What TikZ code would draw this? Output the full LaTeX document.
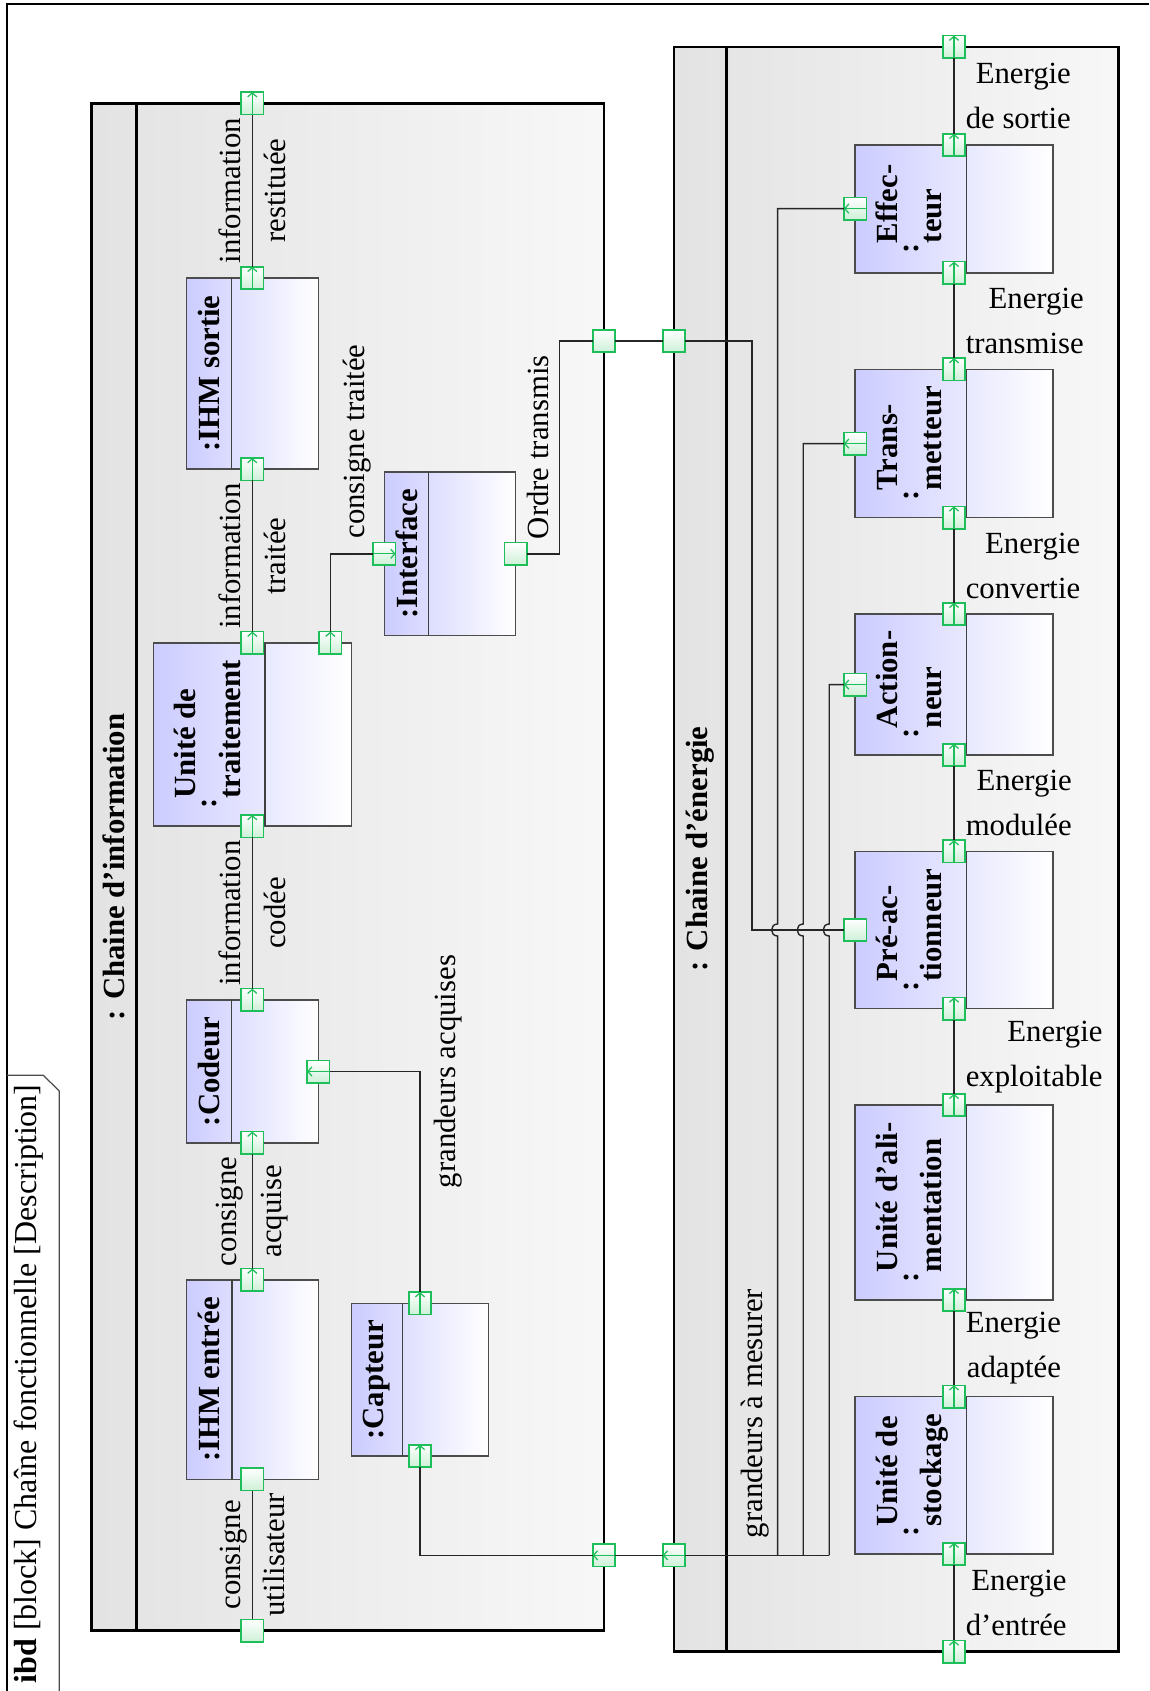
\documentclass[tikz,border=0pt]{standalone}
\usepackage{fontspec}
\setmainfont{Liberation Serif}
\usepackage{tikz}
\usetikzlibrary{%
  calc,%
  fit,%
  arrows.meta%
}
\definecolor{portgreen}{RGB}{30,190,90}
\definecolor{portfill}{RGB}{205,240,215}
\renewcommand{\arraystretch}{1.2}
\newcommand{\twolines}[2]{\begin{tabular}{@{}l@{}}#1\\#2\end{tabular}}

\begin{document}
\begin{tikzpicture}[x=0.325pt,y=-0.325pt,
  chainbox/.style={draw=black,line width=0.8pt,left color=black!11,right color=black!3,inner sep=0},
  partbox/.style={draw=black!70,line width=0.5pt,left color=blue!20,right color=white,inner sep=0},
  divider/.style={draw=black!75,line width=0.5pt},
  partname/.style={rotate=90,font=\bfseries,inner sep=0},
  portbox/.style={draw=portgreen,line width=0.5pt,top color=white,bottom color=portfill,minimum size=7.3pt,inner sep=0,outer sep=0},
  portarrow/.style={draw=portgreen,line width=0.4pt,-{Straight Barb[length=1.3pt,width=3pt]}},
  flow/.style={draw=black!85,line width=0.45pt},
  flowlabel/.style={rotate=90,align=center,inner sep=0,font=\fontsize{10}{14.5}\selectfont},
  elabel/.style={anchor=west,align=right,inner sep=0,xshift=3.6pt,font=\fontsize{10}{14.5}\selectfont}]
\useasboundingbox (0,0) rectangle (1149,1691);

% frame and tab
\draw[black,line width=0.5pt] (7,1691) -- (7,4) -- (1149,4);
\draw[black!70,line width=0.4pt] (7,1075.3) -- (43.3,1075.3) -- (59.3,1091) -- (59.3,1691);
\node[rotate=90,anchor=west,inner sep=0,font=\fontsize{10.4}{12}\selectfont] (frametitle) at (29,1684)
  {\textbf{ibd} [block] Chaîne fonctionnelle [Description]};

% the two chains
\node[chainbox,fit={(91.7,103.3)(604,1630.5)}] (info) {};
\draw[divider,black,line width=0.8pt] (136.7,103.3) -- (136.7,1630.5);
\node[partname] (infoname) at (114.2,867) {: Chaine d'information};
\node[chainbox,fit={(674,46.8)(1118.5,1651.6)}] (energy) {};
\draw[divider,black,line width=0.8pt] (726.6,46.8) -- (726.6,1651.6);
\node[partname] (energyname) at (700.3,849) {: Chaine d'énergie};

% parts of the information chain
\node[partbox,fit={(186.7,278)(318.3,469.2)}] (ihms) {};
\draw[divider] (231.7,278) -- (231.7,469.2);
\node[partname] at (209.2,373.6) {:IHM sortie};
\node[partbox,fit={(153.3,642.8)(351.3,826.2)}] (traitement) {};
\draw[divider] (265,642.8) -- (265,826.2);
\node[partname] at (209.2,734.5) {:\twolines{Unité de}{traitement}};
\node[partbox,fit={(186.7,999.9)(318.3,1142.8)}] (codeur) {};
\draw[divider] (231.7,999.9) -- (231.7,1142.8);
\node[partname] at (209.2,1071.3) {:Codeur};
\node[partbox,fit={(186.7,1279.8)(318.3,1479.3)}] (ihme) {};
\draw[divider] (232,1279.8) -- (232,1479.3);
\node[partname] at (209.2,1379.5) {:IHM entrée};
\node[partbox,fit={(384.3,471.9)(515.7,635.7)}] (interface) {};
\draw[divider] (428.7,471.9) -- (428.7,635.7);
\node[partname] at (406.5,553.8) {:Interface};
\node[partbox,fit={(351.7,1303.3)(488.7,1456)}] (capteur) {};
\draw[divider] (402.3,1303.3) -- (402.3,1456);
\node[partname] at (377,1379.7) {:Capteur};

% parts of the energy chain
\foreach \n/\ya/\yb/\ta/\tb in {effecteur/145/272.9/Effec-/teur,
    transmetteur/369.3/517.5/Trans-/metteur,
    actionneur/614/755/Action-/neur,
    preact/851.4/1008.6/Pré-ac-/tionneur,
    alim/1105/1300/Unité d'ali-/mentation,
    stockage/1396.5/1554/Unité de/stockage}
{
  \node[partbox,fit={(855.2,\ya)(1053.2,\yb)}] (\n) {};
  \draw[divider] (966.5,\ya) -- (966.5,\yb);
  \node[partname] at (910.9,{(\ya+\yb)/2}) {:\twolines{\ta}{\tb}};
}

% ports
\foreach \p/\y in {pIout/103.3,pHSout/278,pHSin/469.2,pUTout/642.8,pUTin/826.2,
    pCout/999.9,pCin/1142.8,pHEout/1279.8,pHEin/1479.3,pIin/1630.5}
  \node[portbox] (\p) at (252.3,\y) {};
\node[portbox] (pUTcmd) at (330.3,642.8) {};
\node[portbox] (pIFin) at (384.3,553.8) {};
\node[portbox] (pIFout) at (515.7,553.8) {};
\node[portbox] (pIord) at (604,341) {};
\node[portbox] (pEord) at (674,341) {};
\node[portbox] (pCmes) at (318.3,1071.5) {};
\node[portbox] (pCAout) at (420,1303.3) {};
\node[portbox] (pCAin) at (420,1456) {};
\node[portbox] (pImes) at (604,1555.3) {};
\node[portbox] (pEmes) at (674,1555.3) {};
\foreach \p/\y in {pEout/46.8,pEFout/145,pEFin/272.9,pTRout/369.3,pTRin/517.5,
    pACout/614,pACin/755,pPAout/851.4,pPAin/1008.6,pALout/1105,pALin/1300,
    pSTout/1396.5,pSTin/1554,pEin/1651.6}
  \node[portbox] (\p) at (954,\y) {};
\node[portbox] (pEFmes) at (855.2,208.6) {};
\node[portbox] (pTRmes) at (855.2,443.6) {};
\node[portbox] (pACmes) at (855.2,684.6) {};
\node[portbox] (pPAord) at (855.2,930) {};

% flows of the information chain
\draw[flow] (pHSout) -- node[flowlabel] {information\\restituée} (pIout);
\draw[flow] (pUTout) -- node[flowlabel] {information\\traitée} (pHSin);
\draw[flow] (pCout) -- node[flowlabel] {information\\codée} (pUTin);
\draw[flow] (pHEout) -- node[flowlabel] {consigne\\acquise} (pCin);
\draw[flow] (pIin) -- node[flowlabel] {consigne\\utilisateur} (pHEin);
\draw[flow] (pUTcmd) |- (pIFin);
\node[flowlabel] (lcons) at (357,441.5) {consigne traitée};
\coordinate (ordBend) at (559.3,447);
\draw[flow] (pIFout) -- (pIFout -| ordBend) |- (pIord);
\node[flowlabel] (lordre) at (537.5,447.3) {Ordre transmis};
\draw[flow] (pIord) -- (pEord);
\coordinate (ordDown) at (752,600);
\draw[flow] (pEord) -| (ordDown) |- (pPAord);
\draw[flow] (pCmes) -| (pCAout);
\node[flowlabel] (lacq) at (448,1071.5) {grandeurs acquises};
\draw[flow] (pCAin) |- (pImes);
\draw[flow] (pImes) -- (pEmes);
\coordinate (busA) at (777.6,1555.3);
\coordinate (busB) at (803.2,1555.3);
\coordinate (busC) at (829.2,1555.3);
\draw[flow] (pEmes) -- (busC);
\foreach \b/\t in {busA/pEFmes,busB/pTRmes,busC/pACmes}
  \draw[flow] (\b) -- ($(\b |- pPAord)+(0,6)$)
    .. controls +(-8,0) and +(-8,0) .. ($(\b |- pPAord)+(0,-6)$) |- (\t);
\node[flowlabel] (lmes) at (755,1413.5) {grandeurs à mesurer};

% flows of the energy chain
\draw[flow] (pEFout) -- node[elabel] {Energie\\de sortie} (pEout);
\draw[flow] (pTRout) -- node[elabel] {Energie\\transmise} (pEFin);
\draw[flow] (pACout) -- node[elabel] {Energie\\convertie} (pTRin);
\draw[flow] (pPAout) -- node[elabel] {Energie\\modulée} (pACin);
\draw[flow] (pALout) -- node[elabel] {Energie\\exploitable} (pPAin);
\draw[flow] (pSTout) -- node[elabel] {Energie\\adaptée} (pALin);
\draw[flow] (pEin) -- node[elabel] {Energie\\d'entrée} (pSTin);

% direction marks in the ports
\foreach \p in {pIout,pHSout,pHSin,pUTout,pUTin,pCout,pCin,pHEout,pUTcmd,pCAout,pCAin,
    pEout,pEFout,pEFin,pTRout,pTRin,pACout,pACin,pPAout,pPAin,pALout,pALin,pSTout,pSTin,pEin}
  \draw[portarrow] (\p.south) -- (\p.north);
\foreach \p in {pCmes,pImes,pEmes,pEFmes,pTRmes,pACmes}
  \draw[portarrow] (\p.east) -- (\p.west);
\draw[portarrow] (pIFin.west) -- (pIFin.east);
\end{tikzpicture}
\end{document}
